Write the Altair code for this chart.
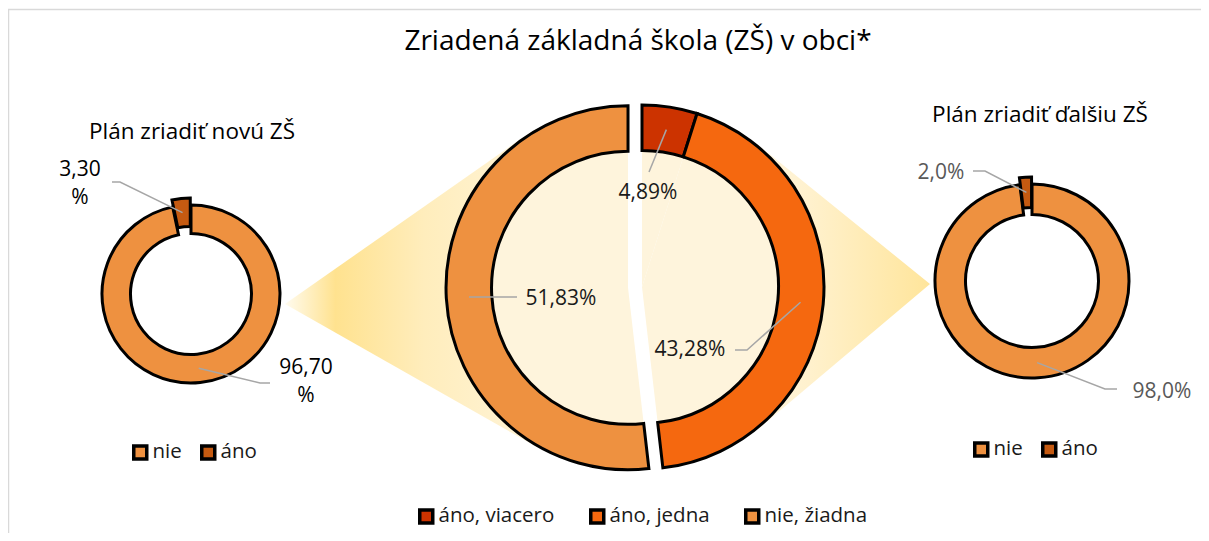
import math
import altair as alt
import pandas as pd

# ---------------- data ----------------
TITLE = "Zriadená základná škola (ZŠ) v obci*"
LEFT_TITLE = "Plán zriadiť novú ZŠ"
RIGHT_TITLE = "Plán zriadiť ďalšiu ZŠ"

left_cats = ["nie", "áno"]
left_vals = [96.70, 3.30]

center_cats = ["áno, viacero", "áno, jedna", "nie, žiadna"]
center_vals = [4.89, 43.28, 51.83]

right_cats = ["nie", "áno"]
right_vals = [98.0, 2.0]

# ---------------- style / layout ----------------
M = 8                      # page margin (page coords -> chart coords)
W, H = 1193, 525
FONT = "Open Sans"

left_colors = ["#EE9140", "#C55A11"]
center_colors = ["#CC3300", "#F5680F", "#EE9140"]
right_colors = ["#EE9140", "#C55A11"]

LEFT = dict(cx=191, cy=294, R=89, r=60.5, explode={"áno": 7})
CENTER = dict(cx=642, cy=287, R=182, r=136.5, explode={"nie, žiadna": 14})
RIGHT = dict(cx=1032, cy=281, R=97, r=66.5, explode={"áno": 7})

# first-line centre of each data label
LEFT_LABEL_POS = {"áno": (80, 170), "nie": (306, 368)}
CENTER_LABEL_POS = {"áno, viacero": (648, 193), "áno, jedna": (690, 350), "nie, žiadna": (561, 299)}
RIGHT_LABEL_POS = {"áno": (941, 173), "nie": (1162, 392)}

LEFT_LEADERS = {"áno": [(120, 182), (112, 182)], "nie": [(260, 383), (270, 383)]}
CENTER_LEADERS = {"áno, viacero": [(649, 172)], "áno, jedna": [(747, 350), (735, 350)],
                  "nie, žiadna": [(517, 297)]}
RIGHT_LEADERS = {"áno": [(985, 171), (973, 171)], "nie": [(1105, 389), (1117, 389)]}

THETA = alt.Scale(domain=[0, 100], range=[0, 2 * math.pi])


def slices(cats, vals, geo):
    rows = []
    start = 0.0
    total = sum(vals)
    rm = (geo["R"] + geo["r"]) / 2
    for c, v in zip(cats, vals):
        end = start + v
        mid = (start + end) / 2 / total * 2 * math.pi
        e = geo["explode"].get(c, 0)
        cx = geo["cx"] - M + e * math.sin(mid)
        cy = geo["cy"] - M - e * math.cos(mid)
        rows.append(dict(cat=c, value=v, start=start / total * 100, end=end / total * 100,
                         cx=cx, cy=cy, mx=cx + rm * math.sin(mid), my=cy - rm * math.cos(mid)))
        start = end
    return pd.DataFrame(rows)


def fmt(v, dec, wrap):
    s = f"{v:.{dec}f}".replace(".", ",")
    return s + ("\n%" if wrap else "%")


def legend(x, y, colpad):
    return alt.Legend(orient="none", legendX=x - M, legendY=y - M, direction="horizontal",
                      title=None, symbolType="square", symbolSize=169,
                      symbolStrokeColor="black", symbolStrokeWidth=3.5,
                      labelFont=FONT, labelFontSize=20.5, labelColor="#1A1A1A",
                      labelOffset=2, columnPadding=colpad, padding=0)


def ring(df, geo, cats, colors, leg):
    return alt.Chart(df).mark_arc(
        innerRadius=geo["r"], outerRadius=geo["R"], stroke="black", strokeWidth=3,
        strokeJoin="miter"
    ).encode(
        theta=alt.Theta("start:Q", scale=THETA, stack=None),
        theta2="end:Q",
        x=alt.X("cx:Q", scale=None, axis=None),
        y=alt.Y("cy:Q", scale=None, axis=None),
        color=alt.Color("cat:N", scale=alt.Scale(domain=cats, range=colors), legend=leg),
    )


def leaders(df, spec, name):
    rows = []
    for rec in df.to_dict("records"):
        pts = [(rec["mx"], rec["my"])] + [(x - M, y - M) for x, y in spec[rec["cat"]]]
        for i, (x, y) in enumerate(pts):
            rows.append(dict(seg=f"{name}-{rec['cat']}", ord=i, x=x, y=y))
    return alt.Chart(pd.DataFrame(rows)).mark_line(color="#A6A6A6", strokeWidth=1.5).encode(
        x=alt.X("x:Q", scale=None, axis=None),
        y=alt.Y("y:Q", scale=None, axis=None),
        detail="seg:N",
        order="ord:Q",
    )


def labels(df, pos, dec, wrap, color):
    d = pd.DataFrame(dict(
        txt=[fmt(v, dec, wrap) for v in df["value"]],
        lx=[pos[c][0] - M for c in df["cat"]],
        ly=[pos[c][1] - M for c in df["cat"]],
    ))
    return alt.Chart(d).mark_text(font=FONT, fontSize=21, color=color, align="center",
                                  baseline="middle", lineBreak="\n", lineHeight=28).encode(
        x=alt.X("lx:Q", scale=None, axis=None),
        y=alt.Y("ly:Q", scale=None, axis=None),
        text="txt:N",
    )


def funnel(apex, center, R, stops):
    ax, ay = apex[0] - M, apex[1] - M
    cx, cy = center
    dx, dy = cx - ax, cy - ay
    d = math.hypot(dx, dy)
    base = math.atan2(dy, dx)
    half = math.asin(R / d)
    t = math.sqrt(d * d - R * R)
    p1 = (ax + t * math.cos(base - half), ay + t * math.sin(base - half))
    p2 = (ax + t * math.cos(base + half), ay + t * math.sin(base + half))
    top, bot = (p1, p2) if p1[1] < p2[1] else (p2, p1)

    def line(p, x):
        return ay + (p[1] - ay) * (x - ax) / (p[0] - ax)

    def circ(x, sign):
        return cy + sign * math.sqrt(max(R * R - (x - cx) ** 2, 0))

    xs = sorted([top[0], bot[0]], key=lambda x: abs(x - ax))
    rows = [dict(x=ax, y=ay, y2=ay)]
    for x in xs:
        yt = line(top, x) if abs(x - ax) <= abs(top[0] - ax) + 1e-9 else circ(x, -1)
        yb = line(bot, x) if abs(x - ax) <= abs(bot[0] - ax) + 1e-9 else circ(x, 1)
        rows.append(dict(x=x, y=yt, y2=yb))
    rows.sort(key=lambda r: r["x"])
    grad = alt.LinearGradient(gradient="linear", x1=0, x2=1, y1=0, y2=0,
                              stops=[alt.GradientStop(color=c, offset=o) for o, c in stops])
    return alt.Chart(pd.DataFrame(rows)).mark_area(color=grad, strokeWidth=0).encode(
        x=alt.X("x:Q", scale=None, axis=None),
        y=alt.Y("y:Q", scale=None, axis=None),
        y2="y2:Q",
    )


def text_at(txt, x, y, size, color="#000000"):
    return alt.Chart(pd.DataFrame({"t": [txt]})).mark_text(
        font=FONT, fontSize=size, color=color, align="center", baseline="middle"
    ).encode(text="t:N", x=alt.value(x - M), y=alt.value(y - M))


# ---------------- build ----------------
ldf = slices(left_cats, left_vals, LEFT)
cdf = slices(center_cats, center_vals, CENTER)
rdf = slices(right_cats, right_vals, RIGHT)

frame = alt.Chart(alt.Data(values=[{}])).mark_rect(
    fill="transparent", stroke="#D9D9D9", strokeWidth=1.5
).encode(x=alt.value(0.5), x2=alt.value(W + 20), y=alt.value(1.5), y2=alt.value(H + 20))

nie_c = cdf[cdf["cat"] == "nie, žiadna"].iloc[0]
jed_c = cdf[cdf["cat"] == "áno, jedna"].iloc[0]
funnel_l = funnel((285, 304), (nie_c["cx"], nie_c["cy"]), CENTER["R"] + 1.5,
                  [(0, "#FFFBEF"), (0.2, "#FFE28F"), (0.55, "#FFEDBC"), (1, "#FFF4D8")])
funnel_r = funnel((930, 284), (jed_c["cx"], jed_c["cy"]), CENTER["R"] + 1.5,
                  [(0, "#FFF6E0"), (0.3, "#FFF1CD"), (1, "#FFE59B")])

hole = alt.Chart(cdf).mark_arc(innerRadius=0, outerRadius=CENTER["r"], fill="#FEF4DC").encode(
    theta=alt.Theta("start:Q", scale=THETA, stack=None),
    theta2="end:Q",
    x=alt.X("cx:Q", scale=None, axis=None),
    y=alt.Y("cy:Q", scale=None, axis=None),
)

ring_l = ring(ldf, LEFT, left_cats, left_colors, legend(130, 442, 12))
ring_c = ring(cdf, CENTER, center_cats, center_colors, legend(416, 506, 28))
ring_r = ring(rdf, RIGHT, right_cats, right_colors, legend(971, 439, 12))

chart = alt.layer(
    frame, funnel_l, funnel_r, hole,
    ring_l, ring_c, ring_r,
    leaders(ldf, LEFT_LEADERS, "l"), leaders(cdf, CENTER_LEADERS, "c"), leaders(rdf, RIGHT_LEADERS, "r"),
    labels(ldf, LEFT_LABEL_POS, 2, True, "#000000"),
    labels(cdf, CENTER_LABEL_POS, 2, False, "#1A1A1A"),
    labels(rdf, RIGHT_LABEL_POS, 1, False, "#595959"),
    text_at(TITLE, 638, 42, 28),
    text_at(LEFT_TITLE, 192, 132, 22.5),
    text_at(RIGHT_TITLE, 1040, 115, 22.5),
).resolve_scale(color="independent").properties(
    width=W, height=H, autosize=alt.AutoSizeParams(type="none"), padding=0
).configure_view(strokeWidth=0)

chart.save("out.html", embed_options={"renderer": "svg", "actions": False})
